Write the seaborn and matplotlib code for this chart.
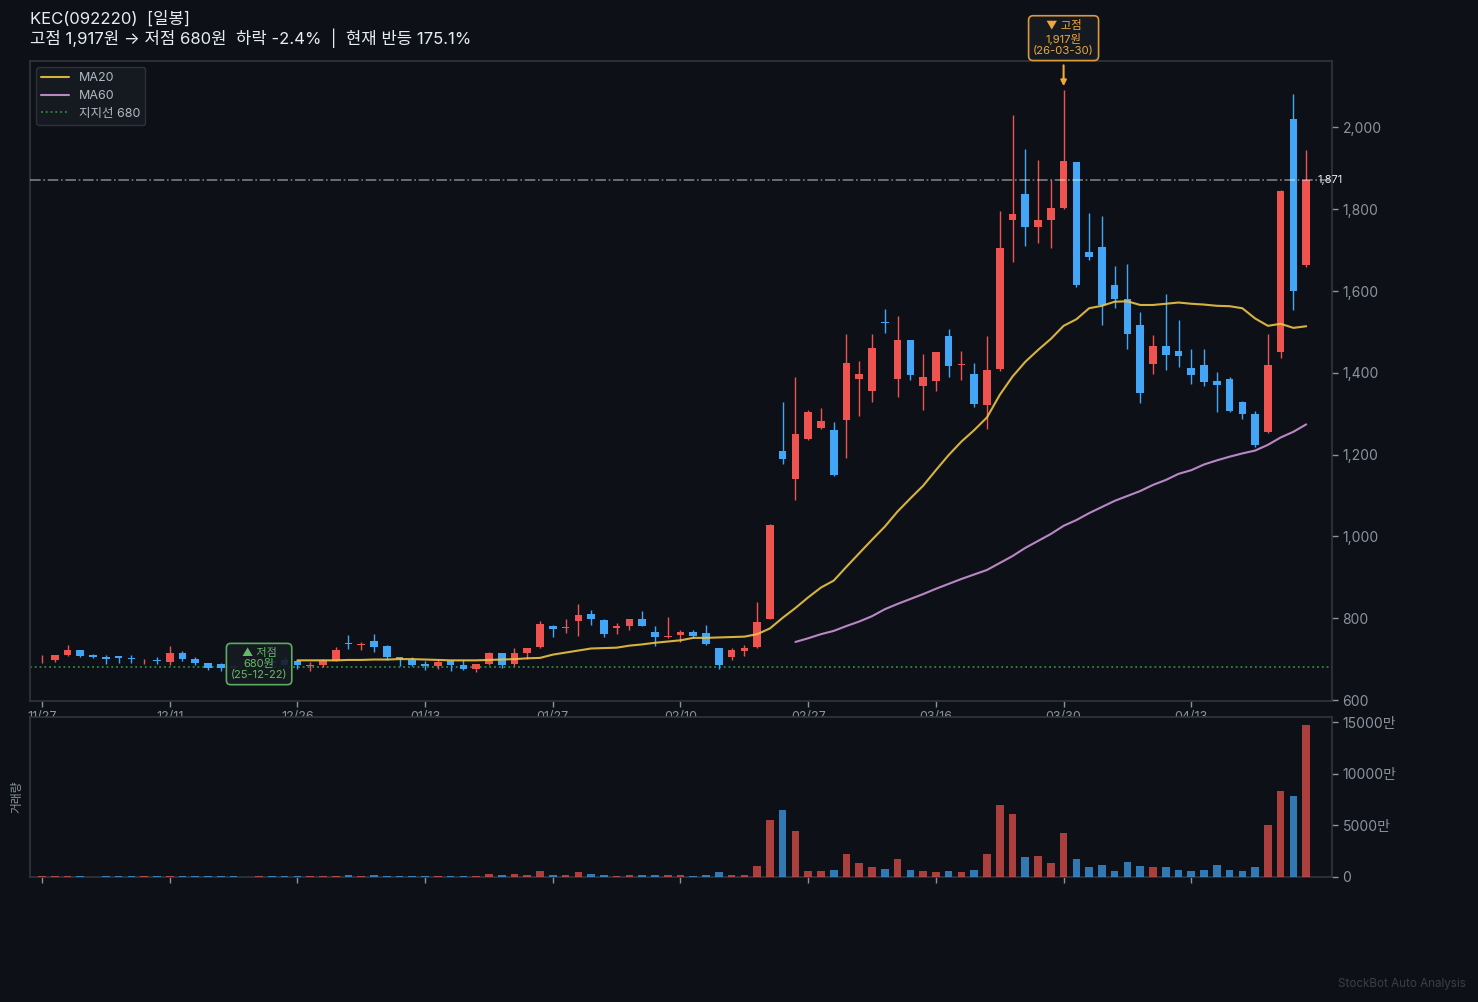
import numpy as np
import pandas as pd
import matplotlib
matplotlib.use("Agg")
import matplotlib.pyplot as plt
import seaborn as sns

# --- data ---
opens = [700, 699, 711, 723, 709, 706, 708, 703, 697, 697,
         694, 716, 701, 691, 689, 682, 680, 684, 695, 699,
         695, 683, 686, 696, 740, 734, 745, 733, 706, 697,
         689, 684, 696, 686, 677, 689, 716, 689, 716, 730,
         782, 777, 794, 811, 796, 775, 782, 799, 767, 755,
         760, 767, 765, 728, 706, 721, 730, 799, 1209, 1140,
         1238, 1265, 1260, 1285, 1385, 1356, 1524, 1385, 1480, 1368,
         1380, 1490, 1419, 1397, 1321, 1410, 1774, 1837, 1757, 1774,
         1803, 1916, 1696, 1708, 1615, 1581, 1517, 1422, 1466, 1453,
         1412, 1419, 1380, 1385, 1329, 1299, 1255, 1451, 2021, 1664]
highs = [709, 711, 735, 723, 713, 709, 708, 711, 700, 704,
         733, 721, 704, 691, 691, 682, 695, 695, 700, 704,
         699, 692, 701, 730, 758, 742, 761, 735, 706, 706,
         696, 699, 699, 699, 689, 718, 716, 726, 726, 794,
         784, 799, 836, 821, 799, 789, 799, 818, 782, 804,
         772, 772, 784, 728, 728, 735, 840, 1030, 1329, 1390,
         1309, 1314, 1280, 1495, 1429, 1495, 1556, 1539, 1480, 1446,
         1451, 1507, 1453, 1424, 1490, 1796, 2030, 1947, 1920, 1872,
         2092, 1916, 1791, 1784, 1661, 1666, 1549, 1493, 1593, 1529,
         1458, 1458, 1402, 1390, 1330, 1307, 1495, 1846, 2082, 1945]
lows = [691, 693, 708, 704, 702, 689, 691, 691, 689, 689,
        686, 696, 686, 674, 672, 672, 668, 680, 684, 686,
        676, 672, 681, 696, 725, 723, 718, 699, 684, 682,
        674, 677, 672, 674, 669, 686, 679, 684, 701, 728,
        755, 765, 757, 784, 755, 762, 772, 780, 733, 752,
        743, 752, 735, 677, 699, 708, 728, 797, 1177, 1089,
        1236, 1263, 1148, 1192, 1295, 1329, 1497, 1341, 1383, 1309,
        1356, 1390, 1383, 1317, 1263, 1405, 1671, 1710, 1717, 1705,
        1800, 1610, 1676, 1517, 1559, 1458, 1326, 1397, 1407, 1414,
        1373, 1368, 1304, 1304, 1287, 1219, 1253, 1436, 1554, 1659]
closes = [700, 711, 723, 708, 706, 700, 702, 700, 697, 695,
          716, 701, 691, 679, 679, 680, 681, 686, 690, 686,
          685, 686, 695, 723, 736, 738, 730, 704, 701, 686,
          684, 694, 686, 677, 689, 716, 686, 716, 726, 787,
          774, 779, 809, 799, 762, 780, 799, 782, 755, 757,
          767, 757, 738, 686, 723, 728, 792, 1028, 1189, 1251,
          1304, 1282, 1150, 1424, 1397, 1461, 1522, 1480, 1395, 1390,
          1451, 1417, 1422, 1324, 1407, 1705, 1788, 1757, 1774, 1803,
          1917, 1615, 1683, 1566, 1581, 1495, 1351, 1466, 1444, 1441,
          1395, 1378, 1370, 1307, 1300, 1224, 1419, 1845, 1600, 1871]
volumes = [97, 97, 97, 97, 20, 97, 97, 97, 97, 97,
           97, 97, 97, 97, 97, 97, 20, 97, 97, 97,
           97, 97, 97, 97, 194, 97, 194, 97, 97, 97,
           97, 97, 97, 97, 97, 290, 194, 290, 194, 580,
           194, 194, 484, 290, 194, 97, 194, 194, 194, 194,
           194, 97, 194, 484, 194, 194, 1065, 5516, 6484, 4452,
           580, 580, 677, 2226, 1355, 968, 774, 1742, 677, 580,
           484, 580, 484, 677, 2226, 6968, 6097, 1936, 2032, 1355,
           4258, 1742, 968, 1161, 580, 1452, 1065, 968, 968, 677,
           580, 677, 1161, 677, 580, 968, 5032, 8323, 7839, 14710]
ma20_values = [697, 697, 697, 697, 698, 698, 699, 699, 700, 700,
               699, 698, 697, 697, 697, 698, 699, 700, 702, 703,
               711, 716, 721, 726, 727, 728, 733, 736, 740, 743,
               746, 752, 752, 753, 754, 755, 761, 775, 801, 825,
               851, 875, 892, 926, 959, 992, 1024, 1061, 1093, 1124,
               1162, 1199, 1232, 1260, 1291, 1346, 1391, 1427, 1456, 1483,
               1515, 1531, 1558, 1564, 1574, 1575, 1566, 1566, 1569, 1572,
               1569, 1567, 1564, 1563, 1558, 1533, 1515, 1520, 1510, 1514]
ma60_values = [742, 751, 761, 769, 781, 792, 805, 822, 835, 847,
               859, 872, 884, 896, 907, 918, 935, 952, 972, 989,
               1006, 1026, 1040, 1057, 1072, 1087, 1099, 1111, 1126, 1138,
               1153, 1162, 1176, 1186, 1195, 1203, 1210, 1224, 1242, 1256, 1274]
date_labels = ["11/27", "12/11", "12/26", "01/13", "01/27",
               "02/10", "02/27", "03/16", "03/30", "04/13"]
price_ticks = [600, 800, 1000, 1200, 1400, 1600, 1800, 2000]
volume_ticks = [0, 5000, 10000, 15000]

BG = "#0d1117"
PANEL = "#161b22"
SPINE = "#30363d"
MUTED = "#8b949e"
RED = "#ef5350"
BLUE = "#42a5f5"
GOLD = "#ecc444"
PURPLE = "#ce93d8"
GREEN = "#66bb6a"
ORANGE = "#f0a73e"

sns.set_theme(style="dark", rc={"figure.facecolor": BG, "axes.facecolor": BG,
                                "savefig.facecolor": BG, "axes.edgecolor": SPINE,
                                "text.color": "#e6edf3"})
plt.rcParams["font.family"] = ["Inter", "Noto Sans CJK KR", "DejaVu Sans"]

df = pd.DataFrame({"open": opens, "high": highs, "low": lows, "close": closes, "volume": volumes})
df["idx"] = np.arange(len(df))
df["ma20"] = [np.nan] * (len(df) - len(ma20_values)) + ma20_values
df["ma60"] = [np.nan] * (len(df) - len(ma60_values)) + ma60_values
df["up"] = df["close"] >= df["open"]
df["color"] = df["up"].map({True: RED, False: BLUE})

W, H = 1478, 1002
fig = plt.figure(figsize=(W / 100, H / 100), dpi=100)
ax = fig.add_axes([30 / W, (H - 701) / H, 1302 / W, 640 / H])
ax_vol = fig.add_axes([30 / W, (H - 877) / H, 1302 / W, 160 / H], sharex=ax)

# candles
ax.vlines(df["idx"], df["low"], df["high"], colors=df["color"], linewidth=1.0, zorder=3)
ax.bar(df["idx"], (df["close"] - df["open"]).abs(), bottom=df[["open", "close"]].min(axis=1),
       width=0.6, color=df["color"], linewidth=0, zorder=3)

# moving averages and levels
sns.lineplot(data=df, x="idx", y="ma20", ax=ax, color=GOLD, linewidth=1.5, alpha=0.9,
             label="MA20", estimator=None, zorder=4)
sns.lineplot(data=df, x="idx", y="ma60", ax=ax, color=PURPLE, linewidth=1.5, alpha=0.9,
             label="MA60", estimator=None, zorder=4)
ax.axhline(680, color="#3fb950", linestyle=":", linewidth=1.3, alpha=0.7, label="지지선 680", zorder=2)
ax.axhline(closes[-1], color="#ffffff", linestyle="-.", linewidth=1.2, alpha=0.45, zorder=5)
ax.text(0.9885, closes[-1], f"{closes[-1]:,}", transform=ax.get_yaxis_transform(), ha="left",
        va="center", fontsize=8, color="#e6edf3", clip_on=False, zorder=6)

# high / low callouts
ax.annotate(f"▼ 고점\n{max(closes):,}원\n(26-03-30)", xy=(80, 2101), xytext=(0, 34.6),
            textcoords="offset points", ha="center", va="center", fontsize=8.2, color=ORANGE,
            linespacing=1.15, annotation_clip=False, zorder=8,
            bbox=dict(boxstyle="round,pad=0.4", fc=PANEL, ec=ORANGE, lw=1.2, alpha=0.9),
            arrowprops=dict(arrowstyle="-|>", color=ORANGE, lw=1.5, shrinkA=3, shrinkB=0))
ax.text(17, 688, "▲ 저점\n680원\n(25-12-22)", ha="center", va="center", fontsize=8, color=GREEN,
        linespacing=1.15, zorder=8,
        bbox=dict(boxstyle="round,pad=0.4", fc=PANEL, ec=GREEN, lw=1.2, alpha=0.9))

ax.set_xlim(-0.94, 101.02)
ax.set_ylim(597.6, 2162.6)
ax.set_xlabel("")
ax.set_ylabel("")
ax.yaxis.tick_right()
ax.set_yticks(price_ticks)
ax.set_yticklabels([f"{v:,}" for v in price_ticks])
tick_pos = df["idx"].iloc[::10].tolist()
ax.set_xticks(tick_pos)
ax.set_xticklabels(date_labels)
ax.tick_params(axis="both", colors=MUTED, labelsize=10, length=4, width=1, bottom=True, right=True,
               labelbottom=True)
ax.tick_params(axis="x", labelsize=9, pad=3)
for s in ax.spines.values():
    s.set_color(SPINE)
    s.set_linewidth(1.2)

leg = ax.legend(loc="upper left", fontsize=9, facecolor=PANEL, edgecolor=SPINE, framealpha=0.9,
                labelcolor="#b1bac4", borderaxespad=0.5, labelspacing=0.45, handlelength=2.2)

# volume panel
sns.barplot(data=df, x="idx", y="volume", hue="color", palette={RED: RED, BLUE: BLUE}, ax=ax_vol,
            native_scale=True, dodge=False, width=0.6, alpha=0.7, saturation=1, legend=False,
            linewidth=0, zorder=3)
ax_vol.set_xlim(-0.94, 101.02)
ax_vol.set_ylim(0, 15484)
ax_vol.yaxis.tick_right()
ax_vol.set_yticks(volume_ticks)
ax_vol.set_yticklabels(["0" if v == 0 else f"{v}만" for v in volume_ticks])
ax_vol.set_xticks(tick_pos)
ax_vol.set_xlabel("")
ax_vol.set_ylabel("거래량", fontsize=8.5, color=MUTED, labelpad=5)
ax_vol.tick_params(axis="both", colors=MUTED, labelsize=10, length=4, width=1, bottom=True, right=True,
                   labelbottom=False)
for s in ax_vol.spines.values():
    s.set_color(SPINE)
    s.set_linewidth(1.2)

# the volume panel sits over the clipped date labels
ax.set_zorder(1)
ax_vol.set_zorder(2)

fig.text(30 / W, 1 - 19 / H, "KEC(092220)  [일봉]", fontsize=12, color="#e6edf3", ha="left", va="center")
fig.text(30 / W, 1 - 38 / H, "고점 1,917원 → 저점 680원  하락 -2.4%  |  현재 반등 175.1%", fontsize=12,
         color="#e6edf3", ha="left", va="center")
fig.text(1466 / W, 1 - 984 / H, "StockBot Auto Analysis", fontsize=8.4, color="#3a3f46", ha="right", va="center")

fig.savefig("out.png", dpi=100, facecolor=BG)
